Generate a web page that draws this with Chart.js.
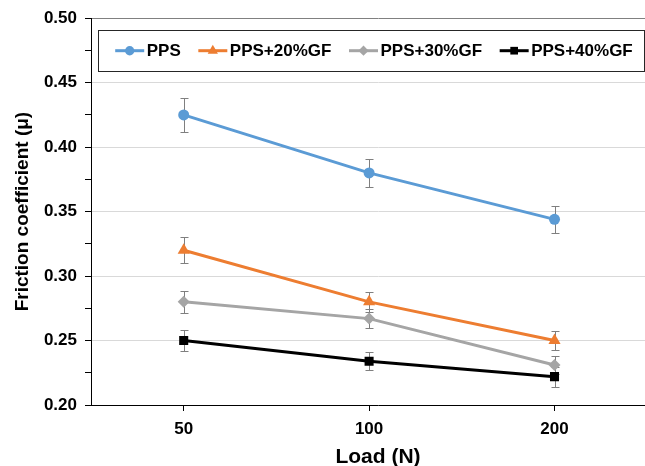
<!DOCTYPE html>
<html><head><meta charset="utf-8">
<script src="https://cdn.jsdelivr.net/npm/chart.js@4.4.1/dist/chart.umd.min.js"></script>
<style>html,body{margin:0;padding:0;background:#fff;overflow:hidden}#wrap{width:665px;height:466px;position:relative}</style>
</head><body><div id="wrap"><canvas id="c"></canvas></div>
<script>
// ---- data ----
const categories = ['50', '100', '200'];
const seriesNames = ['PPS', 'PPS+20%GF', 'PPS+30%GF', 'PPS+40%GF'];
const ppsValues   = [0.425, 0.380, 0.344];
const pps20Values = [0.320, 0.280, 0.250];
const pps30Values = [0.280, 0.267, 0.231];
const pps40Values = [0.250, 0.234, 0.222];
const ppsErrors   = [0.013, 0.011, 0.0105];
const pps20Errors = [0.010, 0.008, 0.0075];
const pps30Errors = [0.0085, 0.0075, 0.007];
const pps40Errors = [0.008, 0.0072, 0.0078];
const yMin = 0.20, yMax = 0.50, yMajorStep = 0.05, yMinorStep = 0.025;

// ---- styles ----
const colors = ['#5B9BD5', '#ED7D31', '#A5A5A5', '#000000'];
const pointStyles = ['circle', 'triangle', 'rectRot', 'rect'];
const pointRadii = [5.5, 7, 6, 6.4];
const valueSets = [ppsValues, pps20Values, pps30Values, pps40Values];
const errorSets = [ppsErrors, pps20Errors, pps30Errors, pps40Errors];
const FONT = "'Liberation Sans', Arial, sans-serif";

Chart.defaults.font.family = FONT;
Chart.defaults.color = '#000';

function drawMarker(ctx, style, x, y, r, color) {
  ctx.fillStyle = color; ctx.beginPath();
  if (style === 'circle') { ctx.arc(x, y, r, 0, Math.PI * 2); }
  else if (style === 'triangle') {
    ctx.moveTo(x, y - r); ctx.lineTo(x + r * Math.sin(Math.PI / 3), y + r / 2); ctx.lineTo(x - r * Math.sin(Math.PI / 3), y + r / 2);
  } else if (style === 'rectRot') {
    ctx.moveTo(x, y - r); ctx.lineTo(x + r, y); ctx.lineTo(x, y + r); ctx.lineTo(x - r, y);
  } else { const s = r * Math.SQRT1_2; ctx.rect(x - s, y - s, 2 * s, 2 * s); }
  ctx.closePath(); ctx.fill();
}

const datasets = seriesNames.map((name, i) => ({
  label: name,
  data: valueSets[i].map((v, k) => ({ x: k, y: v })),
  errors: errorSets[i],
  borderColor: colors[i], backgroundColor: colors[i],
  borderWidth: 3, pointStyle: pointStyles[i], pointRadius: pointRadii[i],
  pointBorderWidth: 0, pointBackgroundColor: colors[i], tension: 0
}));

const errorBars = {
  id: 'errorBars',
  beforeDatasetsDraw(chart) {
    const { ctx, scales: { x, y } } = chart;
    ctx.save(); ctx.strokeStyle = '#7f7f7f'; ctx.lineWidth = 1;
    chart.data.datasets.forEach(ds => {
      ds.data.forEach((p, k) => {
        const e = ds.errors[k];
        const px = Math.round(x.getPixelForValue(p.x)) + 0.5;
        const t = Math.round(y.getPixelForValue(p.y + e)) + 0.5;
        const b = Math.round(y.getPixelForValue(p.y - e)) + 0.5;
        ctx.beginPath();
        ctx.moveTo(px, t); ctx.lineTo(px, b);
        ctx.moveTo(px - 4, t); ctx.lineTo(px + 4, t);
        ctx.moveTo(px - 4, b); ctx.lineTo(px + 4, b);
        ctx.stroke();
      });
    });
    ctx.restore();
  }
};

// Legend drawn inside the plot area, in a framed box (line + marker + label per series)
const boxedLegend = {
  id: 'boxedLegend',
  afterDraw(chart) {
    const ctx = chart.ctx, ca = chart.chartArea;
    const ds = chart.data.datasets;
    const lineLen = 29, textGap = 2.5, itemGap = 17.6, cy = ca.top + 32.5;
    ctx.save();
    ctx.font = 'bold 17px ' + FONT;
    const widths = ds.map(d => lineLen + textGap + ctx.measureText(d.label).width);
    const total = widths.reduce((a, b) => a + b, 0) + itemGap * (ds.length - 1);
    const boxW = total + 17.7 + 11;
    const left = ca.left + 6.5;
    let x = left + 17.7;
    ctx.strokeStyle = '#262626'; ctx.lineWidth = 1;
    ctx.strokeRect(Math.round(left) + 0.5, Math.round(cy - 20.5) + 0.5, Math.round(boxW), 41);
    ds.forEach((d, i) => {
      ctx.strokeStyle = d.borderColor; ctx.lineWidth = 3;
      ctx.beginPath(); ctx.moveTo(x, cy); ctx.lineTo(x + lineLen, cy); ctx.stroke();
      drawMarker(ctx, d.pointStyle, x + lineLen / 2, cy, d.pointRadius * 0.85, d.borderColor);
      ctx.fillStyle = '#000'; ctx.textBaseline = 'middle'; ctx.textAlign = 'left';
      ctx.fillText(d.label, x + lineLen + textGap, cy + 1);
      x += widths[i] + itemGap;
    });
    ctx.restore();
  }
};

new Chart(document.getElementById('c'), {
  type: 'line',
  data: { datasets },
  plugins: [errorBars, boxedLegend],
  options: {
    responsive: true, maintainAspectRatio: false, animation: false,
    layout: { autoPadding: false, padding: { top: 18, right: 0, bottom: 0, left: 0 } },
    plugins: { tooltip: { enabled: false }, legend: { display: false } },
    scales: {
      x: {
        type: 'linear', min: -0.5, max: 2.596,
        afterBuildTicks: (s) => { s.ticks = categories.map((c, i) => ({ value: i })); },
        afterFit: (s) => { s.height = 61; s.paddingLeft = 0; s.paddingRight = 0; },
        ticks: { callback: (v) => categories[v] ?? '', font: { size: 17, weight: 'bold' }, color: '#000', padding: 8, autoSkip: false, maxRotation: 0 },
        grid: { drawOnChartArea: false, drawTicks: true, tickLength: 6, tickColor: '#000' },
        border: { display: true, color: '#000', width: 1 },
        title: { display: true, text: 'Load (N)', font: { size: 21, weight: 'bold' }, color: '#000', padding: { top: 0, bottom: -4 } }
      },
      y: {
        min: yMin, max: yMax,
        afterBuildTicks: (s) => {
          const t = []; for (let v = yMin; v <= yMax + 1e-9; v += yMinorStep) t.push({ value: Math.round(v * 1000) / 1000 });
          s.ticks = t;
        },
        afterFit: (s) => { s.width = 91; },
        ticks: {
          autoSkip: false, padding: 8, font: { size: 17, weight: 'bold' }, color: '#000',
          callback: (v) => (Math.round(v * 1000) % Math.round(yMajorStep * 1000) === 0) ? Number(v).toFixed(2) : ''
        },
        grid: {
          tickLength: 6, tickColor: '#000',
          color: (c) => {
            const v = c.tick ? c.tick.value : 0;
            if (Math.round(v * 1000) % Math.round(yMajorStep * 1000) !== 0) return 'rgba(0,0,0,0)';
            return Math.abs(v - yMax) < 1e-9 ? '#808080' : '#d9d9d9';
          }
        },
        border: { display: true, color: '#000', width: 1 },
        title: { display: true, text: 'Friction coefficient (μ)', font: { size: 19, weight: 'bold' }, color: '#000', padding: { top: 11, bottom: 0 } }
      }
    }
  }
});
</script></body></html>
